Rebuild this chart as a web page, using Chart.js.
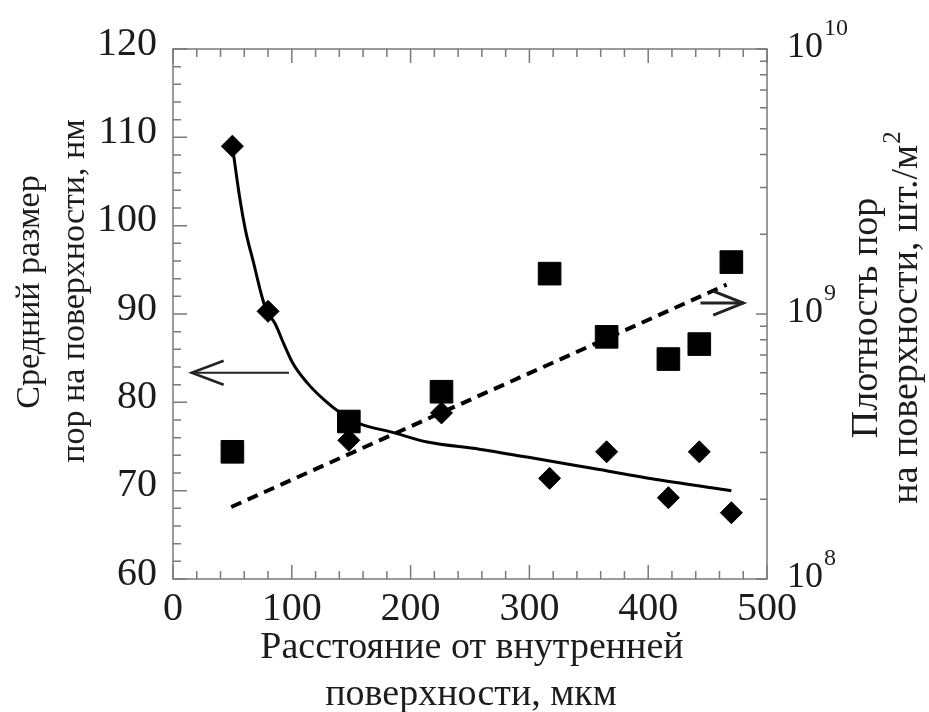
<!DOCTYPE html>
<html lang="ru">
<head>
<meta charset="utf-8">
<title>Размер и плотность пор</title>
<script src="https://cdn.jsdelivr.net/npm/chart.js@4.4.1/dist/chart.umd.min.js"></script>
<style>
  html, body { margin: 0; padding: 0; background: #fff; }
  #wrap { width: 929px; height: 712px; }
</style>
</head>
<body>
<div id="wrap"><canvas id="chart" width="929" height="712"></canvas></div>
<script>
// Mean pore size (left axis, nm)
const sizeX = [50, 80, 148, 226, 317, 365, 417, 443, 470];
const sizeY = [109.0, 90.3, 75.7, 78.8, 71.4, 74.4, 69.2, 74.4, 67.5];

// Pore density (right axis, pcs/m2, log)
const densityX = [50, 148, 226, 317, 365, 417, 443, 470];
const densityY = [3.02e8, 3.93e8, 5.09e8, 1.42e9, 8.2e8, 6.76e8, 7.7e8, 1.57e9];

// Fitted curves
const sizeFitX = [50, 56, 61, 68, 75, 79, 86, 93, 101, 113, 127, 141, 157, 185, 214, 258, 298, 354, 410, 470];
const sizeFitY = [109.0, 103.3, 99.5, 95.7, 91.9, 90.3, 88.9, 86.7, 84.4, 82.2, 80.3, 78.8, 77.6, 76.6, 75.5, 74.7, 73.8, 72.5, 71.2, 70.0];
const densityFitX = [49, 466];
const densityFitY = [1.87e8, 1.29e9];

// Arrows pointing to the axis each series belongs to
const leftArrowX = [97.6, 15.7];
const leftArrowY = [83.35, 83.35];
const rightArrowX = [444, 480];
const rightArrowY = [1.1e9, 1.1e9];

// Axis labels
const xTicks = [0, 100, 200, 300, 400, 500];
const leftTicks = [60, 70, 80, 90, 100, 110, 120];
const rightTickValues = [1e8, 1e9, 1e10];
const rightTickPowers = ['8', '9', '10'];

const SERIF = '"Liberation Serif", "DejaVu Serif", serif';
const INK = '#1c1c1c';
const GREY = '#7a7a7a';

const pts = (xs, ys) => xs.map((x, i) => ({ x, y: ys[i] }));

function drawRotated(ctx, text, sup, x, y, size) {
  ctx.save();
  ctx.translate(x, y);
  ctx.rotate(-Math.PI / 2);
  ctx.font = `${size}px ${SERIF}`;
  const w = ctx.measureText(text).width;
  let supW = 0;
  if (sup) {
    ctx.font = `${Math.round(size * 0.65)}px ${SERIF}`;
    supW = ctx.measureText(sup).width;
  }
  const start = -(w + supW) / 2;
  ctx.font = `${size}px ${SERIF}`;
  ctx.textAlign = 'left';
  ctx.textBaseline = 'middle';
  ctx.fillText(text, start, 0);
  if (sup) {
    ctx.font = `${Math.round(size * 0.65)}px ${SERIF}`;
    ctx.fillText(sup, start + w + 1, -size * 0.35);
  }
  ctx.restore();
}

function arrowHead(ctx, tipX, tipY, dir, len, half) {
  ctx.beginPath();
  ctx.moveTo(tipX - dir * len, tipY - half);
  ctx.lineTo(tipX, tipY);
  ctx.lineTo(tipX - dir * len, tipY + half);
  ctx.stroke();
}

const decorations = {
  id: 'decorations',
  afterDraw(chart) {
    const ctx = chart.ctx;
    const { left, right, top, bottom } = chart.chartArea;
    const xs = chart.scales.x, yl = chart.scales.y, yr = chart.scales.y2;

    ctx.save();
    // inward tick marks on all four sides
    ctx.strokeStyle = GREY;
    ctx.lineWidth = 1.5;
    ctx.beginPath();
    for (let v = 0; v <= 500; v += 20) {
      const px = xs.getPixelForValue(v);
      const len = v % 100 === 0 ? 14 : 8;
      ctx.moveTo(px, bottom); ctx.lineTo(px, bottom - len);
      ctx.moveTo(px, top); ctx.lineTo(px, top + len);
    }
    for (let v = 60; v <= 120; v += 2) {
      const py = yl.getPixelForValue(v);
      const len = v % 10 === 0 ? 14 : 8;
      ctx.moveTo(left, py); ctx.lineTo(left + len, py);
    }
    for (let e = 8; e <= 10; e++) {
      for (let m = 1; m <= 9; m++) {
        if (e === 10 && m > 1) break;
        const py = yr.getPixelForValue(m * Math.pow(10, e));
        const len = m === 1 ? 11 : 7;
        ctx.moveTo(right, py); ctx.lineTo(right - len, py);
      }
    }
    ctx.stroke();
    ctx.strokeRect(left, top, right - left, bottom - top);

    // right axis labels as powers of ten
    ctx.fillStyle = INK;
    ctx.textAlign = 'left';
    ctx.textBaseline = 'alphabetic';
    rightTickValues.forEach((v, i) => {
      const py = yr.getPixelForValue(v);
      ctx.font = `36px ${SERIF}`;
      ctx.fillText('10', right + 20, py + 8);
      const w = ctx.measureText('10').width;
      ctx.font = `24px ${SERIF}`;
      ctx.fillText(rightTickPowers[i], right + 21 + w, py - 14);
    });

    // axis titles
    drawRotated(ctx, 'Средний размер', null, 30, 292, 34);
    drawRotated(ctx, 'пор на поверхности, нм', null, 75, 291, 34);
    drawRotated(ctx, 'Плотность пор', null, 867, 318, 38);
    drawRotated(ctx, 'на поверхности, шт./м', '2', 907, 318, 38);
    ctx.font = `38px ${SERIF}`;
    ctx.textAlign = 'center';
    ctx.textBaseline = 'middle';
    ctx.fillText('Расстояние от внутренней', 472, 648);
    ctx.fillText('поверхности, мкм', 471, 695);

    // arrow heads
    ctx.strokeStyle = '#222';
    ctx.lineWidth = 2.5;
    arrowHead(ctx, xs.getPixelForValue(leftArrowX[1]), yl.getPixelForValue(leftArrowY[1]), -1, 32, 12);
    ctx.lineWidth = 3;
    arrowHead(ctx, xs.getPixelForValue(rightArrowX[1]), yr.getPixelForValue(rightArrowY[1]), 1, 30, 12);
    ctx.restore();
  }
};

new Chart(document.getElementById('chart'), {
  type: 'scatter',
  data: {
    datasets: [
      {
        data: pts(sizeX, sizeY),
        yAxisID: 'y',
        pointStyle: 'rectRot',
        pointRadius: 11,
        backgroundColor: '#000',
        borderColor: '#000',
        borderWidth: 1
      },
      {
        data: pts(densityX, densityY),
        yAxisID: 'y2',
        pointStyle: 'rect',
        pointRadius: 16,
        backgroundColor: '#000',
        borderColor: '#000',
        borderWidth: 1
      },
      {
        type: 'line',
        data: pts(sizeFitX, sizeFitY),
        yAxisID: 'y',
        borderColor: '#000',
        borderWidth: 3,
        pointRadius: 0,
        cubicInterpolationMode: 'monotone',
        fill: false
      },
      {
        type: 'line',
        data: pts(densityFitX, densityFitY),
        yAxisID: 'y2',
        borderColor: '#000',
        borderWidth: 4,
        borderDash: [11, 7],
        pointRadius: 0,
        fill: false
      },
      {
        type: 'line',
        data: pts(leftArrowX, leftArrowY),
        yAxisID: 'y',
        borderColor: '#222',
        borderWidth: 2,
        pointRadius: 0
      },
      {
        type: 'line',
        data: pts(rightArrowX, rightArrowY),
        yAxisID: 'y2',
        borderColor: '#222',
        borderWidth: 3,
        pointRadius: 0
      }
    ]
  },
  options: {
    responsive: false,
    animation: false,
    devicePixelRatio: 1,
    layout: { padding: { top: 49, left: 0, right: 0, bottom: 0 } },
    plugins: { legend: { display: false }, tooltip: { enabled: false } },
    scales: {
      x: {
        type: 'linear',
        position: 'bottom',
        min: 0,
        max: 500,
        afterFit: s => { s.height = 133; },
        afterBuildTicks: s => { s.ticks = xTicks.map(v => ({ value: v })); },
        grid: { display: false, drawTicks: false },
        border: { display: false },
        ticks: { font: { family: SERIF, size: 40 }, color: INK, padding: 6, maxRotation: 0 }
      },
      y: {
        type: 'linear',
        position: 'left',
        min: 60,
        max: 120,
        afterFit: s => { s.width = 173; },
        afterBuildTicks: s => { s.ticks = leftTicks.map(v => ({ value: v })); },
        grid: { display: false, drawTicks: false },
        border: { display: false },
        ticks: { font: { family: SERIF, size: 40 }, color: INK, padding: 16, labelOffset: -5 }
      },
      y2: {
        type: 'logarithmic',
        position: 'right',
        min: 1e8,
        max: 1e10,
        afterFit: s => { s.width = 162; },
        grid: { display: false, drawTicks: false },
        border: { display: false },
        ticks: { display: false }
      }
    }
  },
  plugins: [decorations]
});
</script>
</body>
</html>
